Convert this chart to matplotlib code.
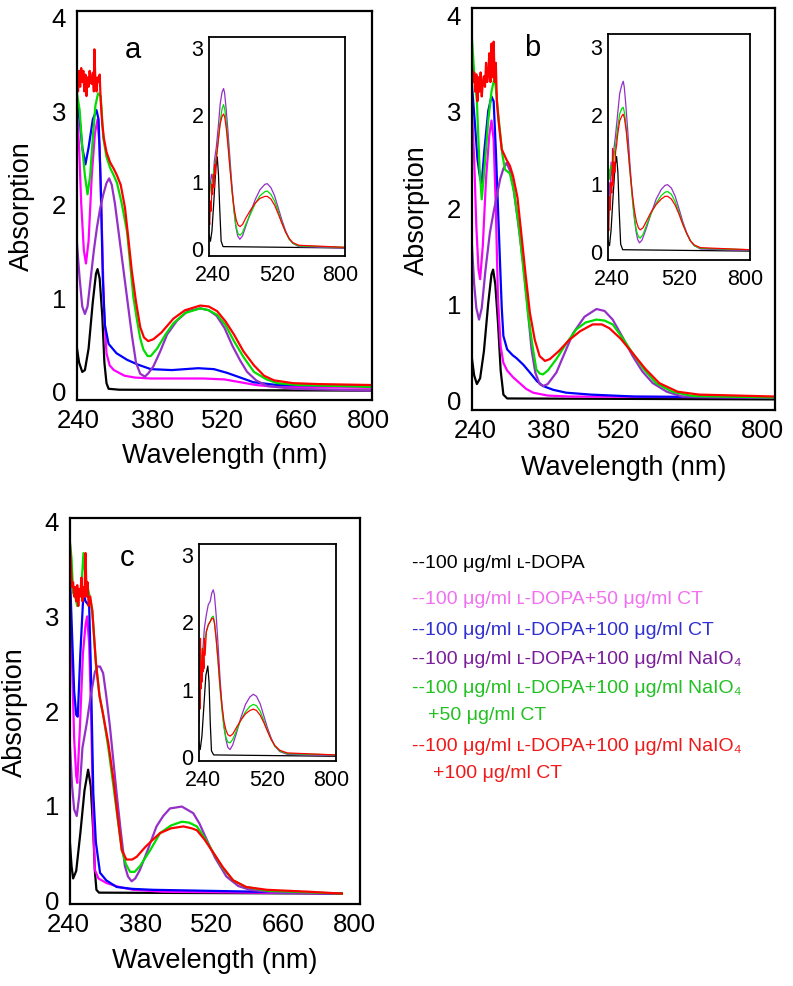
import numpy as np
import matplotlib
matplotlib.use("Agg")
import matplotlib.pyplot as plt
from matplotlib.transforms import ScaledTranslation

plt.rcParams['font.family'] = ['Liberation Sans', 'DejaVu Sans']

# ---- data: (wavelength nm, absorbance) ----
# panel a, main
a_black = [(240, 0.45), (244, 0.3), (250, 0.2), (255, 0.22), (262, 0.45), (270, 0.95), (276, 1.25), (279, 1.3),
           (283, 1.2), (288, 0.8), (292, 0.3), (296, 0.08), (300, 0.02), (320, 0.01), (800, 0.0)]
a_pink = [(240, 3.0), (244, 2.6), (248, 2.0), (253, 1.5), (257, 1.36), (262, 1.6), (268, 2.3), (274, 2.75), (279, 2.9),
          (283, 2.6), (287, 1.8), (291, 0.9), (296, 0.4), (302, 0.27), (310, 0.22), (330, 0.16), (350, 0.14),
          (380, 0.13), (420, 0.13), (480, 0.13), (520, 0.12), (550, 0.09), (580, 0.06), (620, 0.04), (800, 0.03)]
a_blue = [(240, 3.1), (245, 2.9), (250, 2.6), (256, 2.42), (262, 2.6), (270, 2.9), (277, 3.0), (281, 2.9), (285, 2.2),
          (289, 1.2), (293, 0.7), (300, 0.5), (315, 0.4), (335, 0.33), (355, 0.28), (380, 0.23), (420, 0.22),
          (470, 0.24), (500, 0.23), (525, 0.19), (550, 0.14), (575, 0.09), (620, 0.06), (800, 0.05)]
a_purple = [(240, 1.57), (245, 1.2), (250, 0.9), (255, 0.82), (260, 0.9), (266, 1.2), (272, 1.5), (278, 1.75),
            (284, 1.95), (290, 2.1), (296, 2.22), (301, 2.27), (306, 2.2), (312, 2.0), (320, 1.65), (328, 1.3),
            (336, 0.95), (344, 0.6), (352, 0.3), (360, 0.18), (369, 0.15), (376, 0.19), (385, 0.26), (398, 0.42),
            (411, 0.6), (430, 0.75), (450, 0.85), (474, 0.88), (490, 0.86), (505, 0.8), (520, 0.67), (535, 0.48),
            (550, 0.32), (563, 0.2), (580, 0.11), (601, 0.05), (650, 0.02), (800, 0.0)]
a_green = [(240, 3.18), (245, 3.0), (250, 2.6), (255, 2.3), (260, 2.1), (265, 2.3), (270, 2.7), (275, 3.05),
           (280, 3.18), (285, 3.15), (290, 2.7), (296, 2.5), (303, 2.38), (310, 2.3), (316, 2.22), (325, 2.0),
           (335, 1.7), (341, 1.35), (347, 1.0), (354, 0.75), (360, 0.56), (366, 0.44), (374, 0.37), (380, 0.37),
           (392, 0.45), (408, 0.6), (423, 0.72), (445, 0.83), (474, 0.88), (490, 0.86), (506, 0.81), (522, 0.7),
           (538, 0.53), (556, 0.36), (576, 0.2), (600, 0.12), (620, 0.08), (660, 0.06), (800, 0.04)]
a_red = [(240, 3.3), (242, 3.2), (244, 3.42), (246, 3.25), (248, 3.45), (250, 3.3), (252, 3.42), (254, 3.2),
         (256, 3.38), (258, 3.15), (260, 3.35), (262, 3.25), (264, 3.42), (266, 3.3), (268, 3.28), (270, 3.4),
         (272, 3.2), (273, 3.65), (275, 3.3), (277, 3.2), (279, 3.35), (281, 3.3), (283, 3.38), (285, 3.1),
         (288, 2.85), (291, 2.7), (296, 2.55), (303, 2.44), (310, 2.37), (316, 2.3), (323, 2.2), (331, 1.96),
         (338, 1.6), (344, 1.28), (352, 0.95), (360, 0.68), (367, 0.57), (375, 0.53), (385, 0.55), (400, 0.62),
         (423, 0.77), (445, 0.86), (474, 0.91), (490, 0.9), (506, 0.85), (522, 0.74), (538, 0.6), (556, 0.42),
         (576, 0.27), (595, 0.16), (614, 0.11), (650, 0.08), (700, 0.07), (800, 0.06)]

# panel b, main
b_black = [(240, 0.42), (244, 0.25), (249, 0.16), (255, 0.22), (262, 0.5), (270, 1.0), (276, 1.3), (279, 1.35),
           (283, 1.2), (288, 0.8), (293, 0.3), (298, 0.05), (305, 0.01), (800, 0.0)]
b_pink = [(240, 2.98), (244, 2.5), (248, 1.8), (252, 1.35), (255, 1.25), (260, 1.6), (266, 2.3), (272, 2.75),
          (276, 2.9), (280, 2.7), (284, 2.0), (288, 1.04), (293, 0.55), (298, 0.38), (305, 0.3), (316, 0.23),
          (328, 0.17), (340, 0.11), (353, 0.07), (380, 0.04), (420, 0.03), (800, 0.02)]
b_blue = [(240, 3.26), (245, 2.9), (250, 2.5), (255, 2.3), (258, 2.25), (263, 2.6), (270, 3.0), (276, 3.15),
          (280, 3.1), (284, 2.6), (288, 2.0), (292, 1.39), (295, 0.95), (298, 0.66), (305, 0.52), (315, 0.46),
          (322, 0.43), (335, 0.36), (347, 0.28), (360, 0.19), (371, 0.14), (390, 0.1), (414, 0.07), (460, 0.05),
          (540, 0.03), (800, 0.02)]
b_purple = [(240, 1.59), (244, 1.2), (248, 0.95), (253, 0.83), (258, 0.95), (265, 1.35), (273, 1.73), (280, 1.95),
            (287, 2.15), (292, 2.29), (298, 2.4), (304, 2.46), (310, 2.38), (316, 2.22), (325, 1.85), (335, 1.39),
            (342, 1.0), (350, 0.52), (357, 0.28), (365, 0.16), (372, 0.14), (380, 0.16), (396, 0.28), (411, 0.48),
            (427, 0.69), (448, 0.86), (470, 0.94), (485, 0.92), (500, 0.83), (518, 0.65), (537, 0.45), (555, 0.29),
            (574, 0.17), (600, 0.08), (629, 0.03), (800, 0.02)]
b_green = [(240, 3.74), (244, 3.4), (249, 3.1), (254, 2.4), (258, 2.08), (263, 2.4), (270, 2.9), (276, 3.2),
           (282, 3.36), (287, 3.05), (292, 2.77), (296, 2.55), (301, 2.39), (310, 2.35), (318, 2.15), (328, 1.73),
           (336, 1.3), (344, 0.87), (352, 0.55), (359, 0.31), (365, 0.27), (371, 0.26), (380, 0.3), (396, 0.42),
           (414, 0.58), (433, 0.73), (450, 0.8), (470, 0.83), (485, 0.82), (500, 0.78), (518, 0.64), (537, 0.48),
           (558, 0.31), (580, 0.17), (610, 0.08), (648, 0.035), (800, 0.02)]
b_red = [(240, 3.46), (242, 3.3), (244, 3.4), (246, 3.2), (248, 3.38), (250, 3.1), (252, 3.35), (254, 3.2),
         (256, 3.4), (258, 3.15), (260, 3.3), (262, 3.36), (264, 3.25), (266, 3.5), (268, 3.3), (270, 3.38),
         (272, 3.6), (274, 3.3), (276, 3.7), (278, 3.35), (280, 3.72), (282, 3.3), (284, 3.5), (286, 3.1),
         (289, 2.9), (295, 2.6), (304, 2.49), (310, 2.43), (316, 2.32), (324, 2.1), (331, 1.73), (339, 1.3),
         (347, 0.9), (356, 0.62), (365, 0.45), (375, 0.4), (384, 0.42), (400, 0.5), (420, 0.62), (440, 0.71),
         (463, 0.78), (480, 0.78), (494, 0.74), (515, 0.63), (537, 0.48), (560, 0.32), (586, 0.17), (620, 0.08),
         (660, 0.05), (800, 0.03)]

# panel c, main
c_black = [(240, 0.59), (243, 0.35), (246, 0.22), (252, 0.3), (260, 0.7), (268, 1.15), (275, 1.37), (280, 1.2),
           (285, 0.7), (288, 0.3), (291, 0.1), (296, 0.07), (765, 0.06)]
c_pink = [(240, 3.15), (244, 2.5), (248, 1.7), (252, 1.3), (254, 1.23), (259, 1.8), (265, 2.6), (270, 2.9),
          (273, 2.99), (277, 2.7), (281, 1.9), (285, 0.8), (288, 0.31), (295, 0.22), (311, 0.17), (335, 0.13),
          (362, 0.1), (420, 0.08), (765, 0.06)]
c_blue = [(240, 3.42), (244, 2.8), (248, 2.2), (252, 1.95), (255, 1.93), (260, 2.6), (266, 3.24), (270, 3.15),
          (277, 3.1), (280, 2.5), (285, 1.12), (290, 0.6), (298, 0.28), (310, 0.2), (330, 0.13), (360, 0.11),
          (400, 0.1), (500, 0.09), (600, 0.08), (765, 0.06)]
c_purple = [(240, 1.62), (244, 1.2), (248, 0.95), (253, 0.88), (258, 1.1), (264, 1.6), (272, 1.85), (280, 2.15),
            (288, 2.4), (293, 2.46), (298, 2.46), (304, 2.39), (310, 2.15), (317, 1.83), (324, 1.45), (330, 1.12),
            (338, 0.72), (346, 0.35), (352, 0.24), (359, 0.19), (366, 0.22), (375, 0.31), (390, 0.52), (407, 0.77),
            (420, 0.88), (433, 0.96), (456, 0.98), (478, 0.91), (490, 0.8), (504, 0.63), (520, 0.44), (542, 0.24),
            (565, 0.14), (587, 0.1), (640, 0.07), (765, 0.06)]
c_green = [(240, 3.77), (243, 3.6), (246, 3.24), (250, 3.2), (254, 3.1), (258, 3.25), (262, 3.3), (266, 3.66),
           (270, 3.4), (278, 3.2), (283, 3.05), (290, 2.5), (297, 2.15), (304, 1.95), (314, 1.6), (324, 1.19),
           (332, 0.85), (340, 0.52), (348, 0.37), (356, 0.29), (365, 0.29), (375, 0.35), (395, 0.52), (414, 0.7),
           (435, 0.78), (456, 0.82), (470, 0.81), (485, 0.77), (500, 0.65), (517, 0.49), (535, 0.33), (555, 0.2),
           (580, 0.13), (620, 0.09), (765, 0.06)]
c_red = [(240, 3.74), (242, 3.5), (244, 3.3), (246, 3.35), (248, 3.2), (250, 3.3), (252, 3.15), (254, 3.32),
         (256, 3.1), (258, 3.28), (260, 3.2), (262, 3.4), (264, 3.15), (266, 3.3), (268, 3.2), (270, 3.66),
         (272, 3.2), (274, 3.35), (276, 3.1), (279, 3.2), (283, 3.05), (290, 2.5), (297, 2.15), (304, 1.95),
         (314, 1.65), (324, 1.26), (332, 0.88), (340, 0.52), (349, 0.42), (360, 0.42), (369, 0.45), (385, 0.55),
         (400, 0.63), (414, 0.7), (435, 0.75), (459, 0.77), (475, 0.75), (485, 0.73), (500, 0.63), (517, 0.49),
         (535, 0.34), (555, 0.2), (580, 0.13), (620, 0.1), (700, 0.08), (765, 0.06)]

# insets (black, purple, green, red)
ia_black = [(240, 0.2), (246, 0.1), (252, 0.25), (260, 0.7), (268, 1.2), (274, 1.36), (279, 1.1), (284, 0.6),
            (290, 0.1), (298, 0.02), (800, 0.0)]
ia_purple = [(240, 0.7), (245, 0.95), (250, 1.1), (256, 1.0), (262, 1.3), (270, 1.5), (278, 1.8), (286, 2.15),
             (294, 2.33), (300, 2.38), (304, 2.32), (310, 2.1), (318, 1.75), (326, 1.35), (334, 0.95), (342, 0.6),
             (350, 0.33), (358, 0.18), (367, 0.13), (378, 0.18), (392, 0.33), (410, 0.52), (430, 0.72), (450, 0.87),
             (470, 0.95), (480, 0.96), (495, 0.9), (510, 0.78), (525, 0.6), (540, 0.42), (555, 0.26), (570, 0.14),
             (585, 0.07), (610, 0.02), (800, 0.0)]
ia_green = [(240, 0.75), (245, 0.9), (250, 0.95), (256, 1.05), (262, 1.2), (270, 1.35), (278, 1.6), (286, 1.9),
            (294, 2.08), (300, 2.14), (305, 2.07), (312, 1.85), (320, 1.5), (328, 1.15), (336, 0.8), (344, 0.52),
            (352, 0.31), (360, 0.21), (368, 0.19), (378, 0.23), (392, 0.36), (410, 0.5), (430, 0.66), (450, 0.78),
            (470, 0.84), (480, 0.85), (495, 0.8), (510, 0.7), (525, 0.55), (540, 0.38), (555, 0.24), (570, 0.13),
            (585, 0.07), (610, 0.03), (800, 0.01)]
ia_red = [(240, 0.45), (243, 0.35), (246, 0.7), (249, 0.55), (252, 0.95), (255, 0.8), (258, 1.1), (261, 0.9),
          (264, 1.25), (267, 1.1), (270, 1.35), (274, 1.45), (278, 1.6), (286, 1.85), (294, 1.97), (300, 2.0),
          (305, 1.95), (312, 1.76), (320, 1.45), (328, 1.12), (336, 0.82), (344, 0.58), (352, 0.42), (360, 0.34),
          (368, 0.32), (378, 0.35), (392, 0.45), (410, 0.56), (430, 0.67), (450, 0.74), (470, 0.77), (480, 0.77),
          (495, 0.73), (510, 0.64), (525, 0.51), (540, 0.37), (555, 0.24), (570, 0.14), (585, 0.08), (610, 0.04),
          (800, 0.01)]

ib_black = [(240, 0.15), (246, 0.08), (252, 0.3), (260, 0.8), (268, 1.25), (274, 1.38), (279, 1.15), (284, 0.6),
            (290, 0.1), (298, 0.02), (800, 0.0)]
ib_purple = [(240, 0.6), (244, 1.0), (248, 0.8), (252, 1.3), (256, 1.1), (262, 1.45), (270, 1.7), (278, 2.0),
             (286, 2.3), (294, 2.42), (300, 2.48), (304, 2.4), (310, 2.15), (318, 1.75), (326, 1.3), (334, 0.9),
             (342, 0.55), (350, 0.3), (357, 0.17), (364, 0.12), (374, 0.16), (390, 0.32), (410, 0.55), (430, 0.76),
             (450, 0.9), (465, 0.96), (475, 0.97), (490, 0.92), (505, 0.8), (520, 0.62), (535, 0.43), (550, 0.27),
             (565, 0.15), (580, 0.08), (605, 0.03), (800, 0.01)]
ib_green = [(240, 1.1), (243, 1.2), (246, 1.05), (250, 1.25), (256, 1.2), (262, 1.35), (270, 1.55), (278, 1.8),
            (286, 2.0), (294, 2.08), (300, 2.1), (305, 2.02), (312, 1.8), (320, 1.45), (328, 1.1), (336, 0.76),
            (344, 0.48), (352, 0.3), (360, 0.21), (367, 0.19), (378, 0.24), (392, 0.38), (410, 0.55), (430, 0.7),
            (450, 0.81), (465, 0.86), (475, 0.87), (490, 0.83), (505, 0.72), (520, 0.57), (535, 0.4), (550, 0.26),
            (565, 0.15), (580, 0.08), (605, 0.04), (800, 0.02)]
ib_red = [(240, 0.4), (243, 0.3), (246, 0.8), (249, 0.6), (252, 1.0), (255, 0.85), (258, 1.5), (261, 0.95),
          (264, 1.3), (267, 1.15), (270, 1.45), (274, 1.55), (278, 1.7), (286, 1.9), (294, 1.97), (300, 2.0),
          (305, 1.94), (312, 1.75), (320, 1.45), (328, 1.12), (336, 0.83), (344, 0.6), (352, 0.43), (360, 0.34),
          (367, 0.31), (378, 0.34), (392, 0.44), (410, 0.57), (430, 0.68), (450, 0.76), (465, 0.8), (475, 0.8),
          (490, 0.76), (505, 0.67), (520, 0.54), (535, 0.39), (550, 0.26), (565, 0.15), (580, 0.09), (605, 0.05),
          (800, 0.02)]

ic_black = [(240, 0.2), (245, 0.1), (252, 0.3), (260, 0.75), (268, 1.2), (276, 1.34), (281, 1.1), (286, 0.5),
            (291, 0.08), (300, 0.02), (800, 0.0)]
ic_purple = [(240, 0.9), (243, 1.5), (246, 1.2), (250, 1.4), (256, 1.6), (262, 1.9), (270, 2.1), (278, 2.25),
             (286, 2.3), (292, 2.42), (298, 2.47), (303, 2.4), (310, 2.1), (318, 1.65), (326, 1.15), (334, 0.75),
             (342, 0.45), (350, 0.25), (358, 0.13), (367, 0.1), (378, 0.17), (392, 0.33), (410, 0.56), (430, 0.77),
             (448, 0.88), (462, 0.92), (475, 0.89), (490, 0.78), (505, 0.6), (520, 0.42), (535, 0.27), (550, 0.15),
             (570, 0.07), (600, 0.03), (800, 0.01)]
ic_green = [(240, 1.0), (243, 1.3), (246, 1.1), (250, 1.5), (256, 1.45), (262, 1.7), (270, 1.85), (278, 1.95),
            (286, 2.0), (292, 2.06), (298, 2.08), (303, 2.0), (310, 1.75), (318, 1.4), (326, 1.0), (334, 0.68),
            (342, 0.43), (350, 0.28), (358, 0.21), (367, 0.2), (378, 0.25), (392, 0.37), (410, 0.53), (430, 0.66),
            (448, 0.74), (462, 0.77), (475, 0.75), (490, 0.67), (505, 0.53), (520, 0.38), (535, 0.25), (550, 0.15),
            (570, 0.08), (600, 0.04), (800, 0.02)]
ic_red = [(240, 0.5), (242, 1.0), (244, 0.7), (246, 1.75), (248, 1.0), (250, 1.4), (252, 1.1), (254, 1.6),
          (256, 1.25), (258, 1.55), (260, 1.3), (262, 1.75), (265, 1.5), (270, 1.85), (278, 1.95), (286, 2.0),
          (292, 2.04), (298, 2.05), (303, 1.98), (310, 1.75), (318, 1.42), (326, 1.05), (334, 0.75), (342, 0.52),
          (350, 0.39), (358, 0.32), (367, 0.3), (378, 0.33), (392, 0.42), (410, 0.53), (430, 0.63), (448, 0.68),
          (462, 0.7), (475, 0.68), (490, 0.61), (505, 0.5), (520, 0.37), (535, 0.25), (550, 0.16), (570, 0.09),
          (600, 0.05), (800, 0.02)]

x_ticks = [240, 380, 520, 660, 800]
inset_x_ticks = [240, 520, 800]

legend_lines = ["--100 μg/ml ʟ-DOPA",
                "--100 μg/ml ʟ-DOPA+50 μg/ml CT",
                "--100 μg/ml ʟ-DOPA+100 μg/ml CT",
                "--100 μg/ml ʟ-DOPA+100 μg/ml NaIO₄",
                "--100 μg/ml ʟ-DOPA+100 μg/ml NaIO₄",
                "+50 μg/ml CT",
                "--100 μg/ml ʟ-DOPA+100 μg/ml NaIO₄",
                "+100 μg/ml CT"]

# colours: black, pink, blue, purple, green, red
LINE_COLORS = ['#000000', '#FF00FF', '#0000FF', '#9430C8', '#00DD00', '#FF0000']
INSET_COLORS = ['#000000', '#9430C8', '#00DD00', '#FF0000']
TEXT_COLORS = ['#000000', '#F070F0', '#3030D0', '#7A1E9A', '#22C022', '#22C022', '#EE1A1A', '#EE1A1A']

W, H = 793, 987
fig = plt.figure(figsize=(W / 100, H / 100), dpi=100)


def px_axes(l, t, r, b, z=1):
    return fig.add_axes([l / W, 1 - b / H, (r - l) / W, (b - t) / H], zorder=z)


def style(ax, ylim, yticks, xticks, size, pad_x, pad_y, spine_w, label_shift=None):
    ax.set_xlim(240, 800)
    ax.set_ylim(*ylim)
    ax.set_xticks(xticks)
    ax.set_yticks(yticks)
    ax.tick_params(length=0, labelsize=size)
    ax.tick_params(axis='x', pad=pad_x)
    ax.tick_params(axis='y', pad=pad_y)
    for s in ax.spines.values():
        s.set_linewidth(spine_w)
    # the x labels in the original sit slightly inward of their data position
    if label_shift:
        for tick, dx in zip(ax.xaxis.get_major_ticks(), label_shift):
            lab = tick.label1
            lab.set_transform(lab.get_transform() + ScaledTranslation(dx / 100, 0, fig.dpi_scale_trans))


def draw(ax, series, colors, lw):
    for pts, col in zip(series, colors):
        arr = np.array(pts)
        ax.plot(arr[:, 0], arr[:, 1], color=col, lw=lw, solid_joinstyle='round')


panels = [
    # main box, ylim, inset box, inset ylim, main series, inset series, letter pos, label shifts, xlabel gap
    ((77, 12, 372, 401), (-0.1, 4.06), (209, 38, 345, 257), (-0.12, 3.15),
     [a_black, a_pink, a_blue, a_purple, a_green, a_red], [ia_black, ia_purple, ia_green, ia_red],
     'a', (133, 50), [1, 2, -2, -2, -4], 55),
    ((472, 9, 775, 411), (-0.11, 4.07), (608, 35, 750, 261), (-0.13, 3.17),
     [b_black, b_pink, b_blue, b_purple, b_green, b_red], [ib_black, ib_purple, ib_green, ib_red],
     'b', (532, 48), [3, 1, -5, -8, -13], 57),
    ((70, 519, 360, 905), (-0.05, 4.03), (199, 545, 336, 762), (-0.07, 3.15),
     [c_black, c_pink, c_blue, c_purple, c_green, c_red], [ic_black, ic_purple, ic_green, ic_red],
     'c', (127, 558), [-2, -2, -4, -4, -6], 56),
]

for box, ylim, ibox, iylim, series, iseries, letter, lpos, shifts, xgap in panels:
    ax = px_axes(*box)
    style(ax, ylim, [0, 1, 2, 3, 4], x_ticks, 18.5, 6, 8, 1.6, shifts)
    draw(ax, series, LINE_COLORS, 1.6)

    ins = px_axes(*ibox, z=3)
    style(ins, iylim, [0, 1, 2, 3], inset_x_ticks, 15.5, 6, 4, 1.3, [4, 0, -5])
    draw(ins, iseries, INSET_COLORS, 0.9)

    fig.text(lpos[0] / W, 1 - lpos[1] / H, letter, fontsize=21, ha='center', va='center')

    l, t, r, b = box
    fig.text((l - 55) / W, 1 - (t + b) / 2 / H, 'Absorption', rotation=90, fontsize=19.5,
             ha='center', va='center')
    fig.text((l + r) / 2 / W, 1 - (b + xgap) / H, 'Wavelength (nm)', fontsize=19.5,
             ha='center', va='center')

# legend written as coloured text lines
legend_y = [563, 599, 631, 660, 689, 716, 747, 774]
legend_x = [412, 412, 412, 412, 412, 428, 412, 433]
for txt, col, x, y in zip(legend_lines, TEXT_COLORS, legend_x, legend_y):
    fig.text(x / W, 1 - y / H, txt, color=col, fontsize=14, ha='left', va='center')

fig.savefig('out.png', dpi=100)
